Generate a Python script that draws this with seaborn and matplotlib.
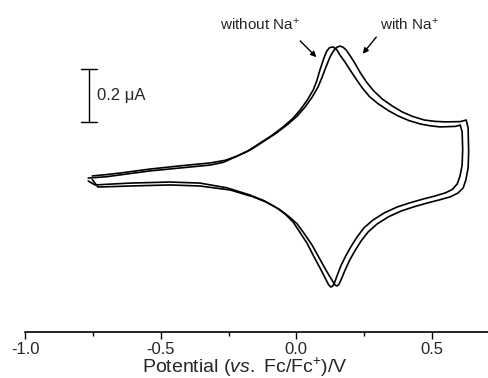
"""
Cyclic voltammograms with and without Na+ (scale bar instead of y axis).
"""

import matplotlib
matplotlib.use("Agg")
import matplotlib.pyplot as plt
import pandas as pd
import seaborn as sns

# potential (V vs Fc/Fc+) and current (uA), one closed sweep each
E_without = [-0.767, -0.700, -0.649, -0.539, -0.429, -0.318, -0.270, -0.233, -0.180, -0.134,
             -0.090, -0.049, -0.015, 0.014, 0.040, 0.062, 0.076, 0.087, 0.102, 0.112, 0.122,
             0.135, 0.148, 0.161, 0.180, 0.198, 0.220, 0.243, 0.270, 0.302, 0.340, 0.376,
             0.415, 0.457, 0.495, 0.530, 0.586, 0.604, 0.611, 0.613, 0.611, 0.603, 0.593,
             0.575, 0.549, 0.510, 0.468, 0.420, 0.372, 0.325, 0.283, 0.250, 0.224, 0.200,
             0.180, 0.163, 0.150, 0.140, 0.133, 0.126, 0.118, 0.104, 0.087, 0.062, 0.039,
             0.012, -0.012, -0.040, -0.071, -0.120, -0.171, -0.255, -0.355, -0.466, -0.613,
             -0.742, -0.767]
i_without = [0.011, 0.016, 0.023, 0.038, 0.049, 0.060, 0.070, 0.087, 0.112, 0.143,
             0.172, 0.204, 0.234, 0.268, 0.305, 0.343, 0.380, 0.419, 0.465, 0.490, 0.503,
             0.506, 0.497, 0.475, 0.448, 0.419, 0.385, 0.351, 0.318, 0.291, 0.265, 0.245,
             0.228, 0.215, 0.208, 0.204, 0.206, 0.211, 0.185, 0.120, 0.060, 0.018, -0.011,
             -0.032, -0.045, -0.057, -0.068, -0.082, -0.098, -0.120, -0.147, -0.176, -0.211,
             -0.250, -0.287, -0.323, -0.358, -0.385, -0.398, -0.400, -0.390, -0.362, -0.328,
             -0.280, -0.234, -0.192, -0.155, -0.126, -0.102, -0.074, -0.053, -0.026, -0.008,
             -0.004, -0.008, -0.015, 0.000]

E_with = [-0.752, -0.700, -0.649, -0.539, -0.429, -0.318, -0.262, -0.218, -0.165, -0.118,
          -0.072, -0.030, 0.003, 0.032, 0.058, 0.080, 0.095, 0.109, 0.125, 0.139, 0.150,
          0.161, 0.172, 0.184, 0.200, 0.217, 0.236, 0.258, 0.285, 0.317, 0.355, 0.391,
          0.430, 0.472, 0.510, 0.549, 0.604, 0.626, 0.633, 0.635, 0.633, 0.625, 0.615,
          0.595, 0.567, 0.525, 0.483, 0.435, 0.387, 0.340, 0.298, 0.265, 0.239, 0.215,
          0.195, 0.179, 0.166, 0.157, 0.151, 0.144, 0.136, 0.124, 0.109, 0.084, 0.058,
          0.030, 0.003, -0.028, -0.060, -0.108, -0.159, -0.244, -0.355, -0.466, -0.613,
          -0.731, -0.752]
i_with = [0.019, 0.024, 0.030, 0.045, 0.057, 0.068, 0.078, 0.094, 0.120, 0.151,
          0.182, 0.215, 0.245, 0.279, 0.316, 0.355, 0.392, 0.430, 0.470, 0.494, 0.505,
          0.509, 0.505, 0.494, 0.470, 0.442, 0.408, 0.374, 0.340, 0.309, 0.282, 0.260,
          0.243, 0.230, 0.225, 0.223, 0.224, 0.230, 0.200, 0.110, 0.049, 0.005, -0.026,
          -0.046, -0.060, -0.072, -0.083, -0.097, -0.113, -0.135, -0.162, -0.192, -0.226,
          -0.265, -0.302, -0.338, -0.370, -0.390, -0.396, -0.394, -0.382, -0.362, -0.336,
          -0.290, -0.242, -0.200, -0.162, -0.134, -0.109, -0.081, -0.060, -0.034, -0.019,
          -0.015, -0.019, -0.023, 0.005]

labels = ["without Na$^{+}$", "with Na$^{+}$"]
major_ticks = [-1.0, -0.5, 0.0, 0.5]
minor_ticks = [-0.75, -0.25, 0.25]
tick_labels = ["-1.0", "-0.5", "0.0", "0.5"]

df = pd.concat([
    pd.DataFrame({"E": E_without, "i": i_without, "cond": labels[0]}),
    pd.DataFrame({"E": E_with, "i": i_with, "cond": labels[1]}),
])

sns.set_style("white")
plt.rcParams["font.family"] = ["Liberation Sans", "DejaVu Sans"]
plt.rcParams["mathtext.fontset"] = "custom"
plt.rcParams["mathtext.rm"] = "Liberation Sans"
plt.rcParams["mathtext.it"] = "Liberation Sans:italic"

fig = plt.figure(figsize=(4.89, 3.78), dpi=100)
ax = fig.add_axes([25 / 489, 46 / 378, 464 / 489, 332 / 378])

sns.lineplot(data=df, x="E", y="i", hue="cond", sort=False, estimator=None,
             palette=["black", "black"], linewidth=1.2, legend=False, ax=ax)

ax.set_xlim(-1.0, 0.71)
ax.set_ylim(-0.570, 0.683)

for s in ["left", "top", "right"]:
    ax.spines[s].set_visible(False)
ax.spines["bottom"].set_color("black")
ax.spines["bottom"].set_linewidth(1.2)
ax.set_yticks([])
ax.set_ylabel("")

ax.set_xticks(major_ticks)
ax.set_xticklabels(tick_labels)
ax.set_xticks(minor_ticks, minor=True)
ax.tick_params(axis="x", which="major", direction="out", length=5, width=1,
               color="black", labelsize=12, pad=2, bottom=True)
ax.tick_params(axis="x", which="minor", direction="out", length=3, width=1,
               color="black", bottom=True)
ax.set_xlabel("Potential ($\\it{vs.}$ Fc/Fc$^{+}$)/V", fontsize=14)
ax.xaxis.set_label_coords(0.474, -0.072)

# 0.2 uA scale bar
ax.plot([-0.764, -0.764], [0.223, 0.423], color="black", lw=1)
ax.plot([-0.794, -0.734], [0.423, 0.423], color="black", lw=1)
ax.plot([-0.794, -0.734], [0.223, 0.223], color="black", lw=1)
ax.text(-0.735, 0.323, "0.2 \u03bcA", fontsize=12, va="center", ha="left")

# curve labels with arrows
arrow = dict(arrowstyle="-|>", color="black", lw=1.0, mutation_scale=8)
ax.annotate("", xy=(0.081, 0.460), xytext=(0.007, 0.536), arrowprops=arrow)
ax.annotate("", xy=(0.238, 0.472), xytext=(0.301, 0.551), arrowprops=arrow)
ax.text(0.012, 0.592, labels[0], fontsize=11, ha="right", va="center")
ax.text(0.307, 0.592, labels[1], fontsize=11, ha="left", va="center")

fig.savefig("out.png", dpi=100)
